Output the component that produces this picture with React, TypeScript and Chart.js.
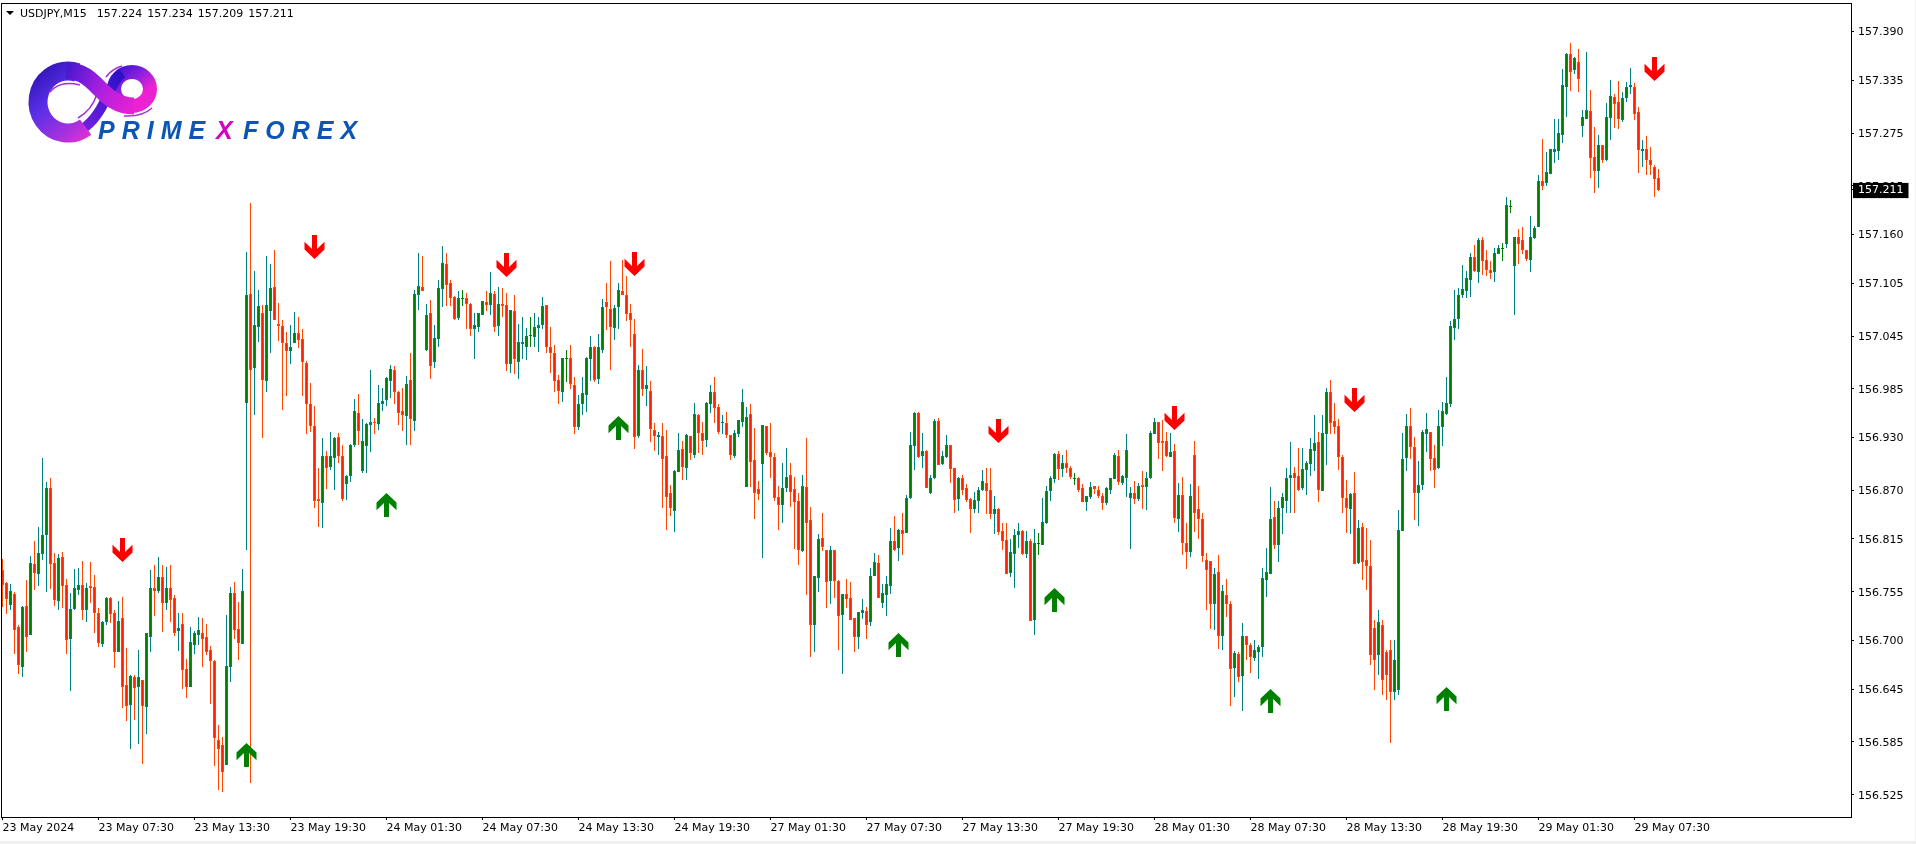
import React, { useEffect, useRef } from "react";
import { Chart, registerables } from "chart.js";

Chart.register(...registerables);

// Price arrays hold thousandths of a yen above PRICE_BASE (792 => 156.792, 1140 => 157.140).
const PRICE_BASE = 156;

const highs = [
  792,766,764,755,718,739,769,796,813,829, 907,880,884,799,798,800,770,754,781,782,
  790,765,789,774,737,722,749,749,735,745, 749,691,661,661,689,655,708,780,786,795,
  786,783,786,752,731,731,679,715,711,727, 726,719,694,678,604,591,729,761,766,744,
  781,1140,1196,1119,1097,1080,1136,1127,1143,1082, 1063,1050,1057,1072,1066,1053,1017,992,966,896,
  929,915,936,931,935,921,888,923,974,979, 951,946,1006,952,990,986,999,1012,1011,983,
  986,1000,1026,1097,1139,1136,1081,1086,1057,1108, 1147,1139,1109,1090,1096,1097,1094,1082,1071,1071,
  1085,1096,1118,1096,1101,1099,1094,1075,1091,1059, 1066,1054,1066,1071,1066,1089,1080,1055,1035,1001,
  1020,1029,1035,998,978,999,1021,1045,1034,1047, 1087,1105,1130,1080,1105,1131,1113,1081,1064,1012,
  1030,1011,994,947,936,947,938,876,893,935, 926,934,932,969,957,948,970,990,999,968,
  955,959,933,939,950,985,964,968,941,881, 944,943,947,912,875,901,918,901,885,867,
  888,930,851,773,821,844,803,807,802,768, 753,770,766,725,732,747,738,782,799,797,
  764,773,828,841,826,845,865,936,959,959, 935,916,887,951,952,915,933,922,896,885,
  888,877,861,868,874,893,896,895,864,850, 833,833,815,826,833,825,824,815,826,822,
  862,875,886,913,915,910,916,898,890,885, 877,864,880,875,875,867,874,884,913,916,
  887,934,874,881,878,892,891,937,952,948, 950,936,935,923,878,885,833,877,926,875,
  845,799,790,782,797,763,770,745,688,687, 720,705,697,701,695,782,805,874,858,858,
  867,895,925,897,918,918,903,930,956,936, 956,986,995,969,951,910,882,867,891,836,
  833,827,814,723,734,723,689,700,700,848, 935,957,963,931,903,938,958,936,921,961,
  970,999,1062,1097,1099,1126,1119,1139,1148,1156, 1157,1142,1130,1145,1148,1150,1202,1199,1157,1166,
  1169,1143,1181,1170,1227,1268,1254,1257,1291,1291, 1347,1366,1377,1361,1370,1301,1367,1324,1282,1273,
  1262,1309,1335,1319,1334,1321,1333,1349,1332,1305, 1267,1272,1259,1239,1234,
];

const opens = [
  780,765,740,753,715,670,739,706,787,775, 798,819,873,788,745,795,763,702,736,757,
  763,734,762,761,731,696,721,748,731,687, 725,650,627,659,647,655,625,704,760,756,
  772,742,759,748,711,719,668,647,695,706, 709,704,689,677,587,582,559,670,754,713,
  696,969,1093,1009,1055,1071,994,1073,1100,1059, 1056,1037,1028,1037,1048,1042,1014,968,943,860,
  856,909,897,907,931,909,877,886,922,958, 892,920,944,948,945,968,972,994,1007,982,
  960,954,995,949,1091,1101,1029,1071,1015,1042, 1098,1127,1105,1089,1065,1087,1088,1081,1053,1055,
  1069,1084,1080,1093,1056,1081,1080,1013,1073,1016, 1036,1033,1045,1044,1054,1057,1080,1033,1026,995,
  982,1020,1020,989,942,968,978,1019,1032,996, 1029,1083,1076,1054,1078,1096,1092,1071,1047,932,
  1007,985,983,939,931,932,909,867,847,891, 917,895,932,910,956,935,927,968,981,965,
  946,947,933,909,934,948,874,957,904,872, 900,943,914,908,863,854,873,887,872,858,
  801,874,836,717,771,816,803,767,802,767, 729,753,748,725,704,731,733,721,773,788,
  743,751,762,813,805,825,822,862,920,958, 909,915,867,884,949,900,908,921,896,860,
  884,873,860,849,858,871,879,870,843,849, 824,814,776,798,819,824,798,813,723,809,
  808,833,869,883,911,894,901,896,883,884, 873,857,863,875,871,864,856,871,883,909,
  878,884,861,867,860,876,874,884,934,948, 926,926,908,915,838,865,810,800,910,849,
  838,791,790,741,778,705,751,741,669,685, 660,705,695,680,687,693,768,775,840,808,
  850,858,884,890,886,873,893,900,915,925, 869,934,981,949,943,908,861,849,867,788,
  829,791,784,714,684,718,687,689,642,644, 824,907,943,919,867,876,934,936,907,895,
  942,957,968,1054,1064,1092,1096,1109,1134,1118, 1154,1131,1120,1117,1138,1144,1149,1191,1124,1157,
  1154,1143,1131,1156,1168,1221,1218,1229,1254,1255, 1273,1327,1364,1346,1355,1283,1291,1300,1248,1232,
  1261,1245,1292,1316,1310,1290,1315,1327,1327,1299, 1255,1257,1245,1236,1224,
];

const closes = [
  763,747,756,712,672,738,704,788,777,799, 820,873,787,746,794,762,701,736,760,763,
  734,760,760,731,697,721,748,730,687,722, 647,626,660,646,659,626,708,760,756,772,
  742,760,746,709,714,666,647,698,708,712, 702,687,677,590,577,551,671,754,712,697,
  756,1091,1007,1057,1079,995,1080,1099,1063,1056, 1037,1028,1033,1048,1041,1015,968,943,858,858,
  909,896,909,930,909,860,886,922,960,937, 926,945,948,946,969,971,997,1008,981,958,
  955,991,951,1093,1102,1096,1069,1011,1043,1099, 1128,1103,1088,1064,1088,1088,1081,1053,1057,1071,
  1085,1080,1094,1055,1081,1079,1013,1074,1019,1038, 1038,1045,1046,1055,1057,1079,1032,1026,994,983,
  1020,1019,991,942,968,980,1020,1033,995,1032, 1078,1078,1055,1077,1097,1092,1070,1063,931,1006,
  985,989,940,932,933,906,863,850,892,916, 897,933,913,957,935,926,969,981,963,936,
  948,933,910,935,950,970,953,902,867,866, 944,913,908,861,854,873,885,868,857,803,
  875,833,717,773,815,806,766,803,767,728, 753,747,723,704,732,734,717,773,789,748,
  754,764,813,803,825,821,861,922,958,908, 915,873,884,949,899,909,921,894,859,884,
  871,859,849,859,871,881,869,843,849,823, 813,775,800,819,824,798,813,722,810,810,
  834,869,884,911,894,901,896,885,884,871, 857,864,874,872,864,856,873,884,910,880,
  886,916,867,860,875,874,884,935,948,924, 924,909,914,839,865,810,800,864,845,838,
  796,780,741,775,705,756,741,668,686,659, 705,695,681,689,693,771,778,838,808,850,
  863,884,888,884,870,894,901,917,924,871, 935,981,946,942,908,861,850,866,787,828,
  789,784,684,678,721,655,661,642,678,825, 906,943,919,867,876,936,940,906,893,943,
  960,969,1056,1064,1092,1098,1111,1134,1119,1154, 1130,1120,1116,1139,1145,1145,1193,1192,1157,1149,
  1142,1132,1157,1167,1221,1215,1231,1257,1257,1275, 1329,1365,1344,1360,1336,1293,1301,1247,1232,1262,
  1245,1293,1317,1308,1291,1315,1327,1329,1297,1256, 1257,1245,1239,1223,1211,
];

const lows = [
  738,730,734,685,662,659,687,706,757,762, 791,755,758,739,734,737,685,643,735,751,
  723,721,743,709,693,693,717,720,669,687, 624,609,577,610,583,560,594,687,728,754,
  710,735,721,705,688,645,635,647,685,695, 670,684,628,558,531,528,559,653,702,678,
  696,802,539,956,1038,930,981,1026,1063,1039, 961,977,1013,1037,1031,977,934,936,850,829,
  827,872,893,870,901,858,859,880,919,922, 890,890,914,934,938,960,966,975,968,944,
  937,921,922,937,1075,1096,1028,996,1009,1033, 1078,1079,1079,1063,1063,1079,1053,1045,1019,1050,
  1069,1073,1069,1049,1045,1066,1005,1003,1002,996, 1019,1018,1032,1032,1027,1053,1026,1003,982,968,
  970,993,985,934,939,956,959,994,993,991, 1026,1052,1006,1040,1053,1091,1062,1032,917,930,
  977,966,925,915,910,850,825,841,823,891, 882,882,905,907,913,910,919,958,946,934,
  934,930,905,907,931,942,874,874,838,859, 793,910,884,858,825,833,868,851,804,786,
  800,751,681,687,755,801,737,741,748,689, 662,737,723,687,690,724,702,716,773,748,
  737,728,753,801,790,797,822,860,893,907, 895,873,866,883,899,899,907,879,845,847,
  865,857,822,845,844,869,843,838,821,819, 802,775,772,759,805,797,794,722,706,797,
  808,832,858,879,882,885,890,883,876,868, 857,847,860,866,862,848,854,866,883,876,
  876,863,804,855,858,849,848,883,934,906, 892,908,908,833,823,797,781,795,823,815,
  789,734,713,712,690,689,727,626,636,653, 620,678,663,677,656,681,749,775,804,789,
  821,844,845,844,869,871,865,886,892,857, 869,899,934,934,893,845,822,821,787,787,
  768,757,672,644,661,638,633,584,633,638, 824,892,906,837,830,870,914,892,873,894,
  920,955,965,1040,1053,1088,1088,1089,1117,1105, 1114,1113,1110,1106,1138,1130,1145,1184,1069,1127,
  1138,1130,1118,1155,1168,1210,1215,1229,1241,1244, 1264,1293,1323,1342,1322,1270,1291,1224,1207,1213,
  1241,1243,1267,1281,1280,1288,1310,1319,1290,1230, 1237,1227,1228,1203,1209,
];

// Signal arrows: candle index and price level (same unit as above).
const sellIndex = [30, 78, 126, 158, 249, 293, 338, 413];
const sellLevel = [802, 1146, 1125, 1127, 937, 952, 973, 1348];
const buyIndex = [61, 96, 154, 224, 263, 317, 361];
const buyLevel = [570, 853, 941, 695, 746, 631, 634];

const timeLabels = [
  "23 May 2024", "23 May 07:30", "23 May 13:30", "23 May 19:30", "24 May 01:30", "24 May 07:30",
  "24 May 13:30", "24 May 19:30", "27 May 01:30", "27 May 07:30", "27 May 13:30", "27 May 19:30",
  "28 May 01:30", "28 May 07:30", "28 May 13:30", "28 May 19:30", "29 May 01:30", "29 May 07:30",
];
const BARS_PER_LABEL = 24;

const priceLabels = [
  "157.390", "157.335", "157.275", "157.215", "157.160", "157.105", "157.045", "156.985",
  "156.930", "156.870", "156.815", "156.755", "156.700", "156.645", "156.585", "156.525",
];
const LAST_PRICE = "157.211";
const HEADER = "USDJPY,M15  157.224 157.234 157.209 157.211";

const FONT = "DejaVu Sans";
const WIDTH = 1915;
const HEIGHT = 841;

const toPrice = (v: number) => PRICE_BASE + v / 1000;

function arrowImage(color: string, down: boolean) {
  const c = document.createElement("canvas");
  c.width = 21;
  c.height = 24;
  const g = c.getContext("2d")!;
  const pts = [
    [8, 0], [13, 0], [13, 14], [20.5, 6.8], [20.5, 14.5], [10.5, 24], [0.5, 14.5], [0.5, 6.8], [8, 14],
  ];
  g.fillStyle = color;
  g.beginPath();
  pts.forEach(([x, y], i) => {
    const py = down ? y : 24 - y;
    if (i === 0) g.moveTo(x, py);
    else g.lineTo(x, py);
  });
  g.closePath();
  g.fill();
  return c;
}

const crispPlugin = {
  id: "crisp",
  afterDatasetsUpdate(chart: any) {
    chart.getSortedVisibleDatasetMetas().forEach((meta: any) => {
      meta.data.forEach((el: any) => {
        el.y = Math.round(el.y);
        if (el.base !== undefined) {
          el.base = Math.round(el.base);
          if (el.base === el.y) el.base = el.y + 1;
        }
      });
    });
  },
};

function drawLogo(ctx: CanvasRenderingContext2D) {
  ctx.save();
  ctx.lineCap = "butt";
  // right loop
  let g = ctx.createLinearGradient(112, 66, 150, 112);
  g.addColorStop(0, "#2a10c8");
  g.addColorStop(0.4, "#8a20e0");
  g.addColorStop(0.7, "#f020d0");
  g.addColorStop(1, "#e028d8");
  ctx.strokeStyle = g;
  ctx.lineWidth = 14;
  ctx.beginPath();
  ctx.ellipse(132, 89, 18, 17, 0, 0, Math.PI * 2);
  ctx.stroke();
  // strand running back to the bottom of the left loop
  g = ctx.createLinearGradient(118, 72, 84, 128);
  g.addColorStop(0, "#2a10c8");
  g.addColorStop(1, "#7020e0");
  ctx.strokeStyle = g;
  ctx.lineWidth = 10;
  ctx.beginPath();
  ctx.moveTo(122, 73);
  ctx.bezierCurveTo(108, 84, 106, 112, 84, 128);
  ctx.stroke();
  // left loop
  g = ctx.createLinearGradient(34, 66, 96, 138);
  g.addColorStop(0, "#2a10b0");
  g.addColorStop(0.4, "#5a30e8");
  g.addColorStop(0.72, "#a030e0");
  g.addColorStop(1, "#f030d0");
  ctx.strokeStyle = g;
  ctx.lineWidth = 19;
  ctx.beginPath();
  ctx.ellipse(68, 102, 30, 31, 0, Math.PI * 0.3, Math.PI * 1.6);
  ctx.stroke();
  // crossing ribbon
  g = ctx.createLinearGradient(66, 72, 140, 106);
  g.addColorStop(0, "#4a18d0");
  g.addColorStop(0.5, "#b020e0");
  g.addColorStop(1, "#f020d0");
  ctx.strokeStyle = g;
  ctx.lineWidth = 17;
  ctx.beginPath();
  ctx.moveTo(66, 71);
  ctx.bezierCurveTo(98, 70, 100, 106, 134, 106);
  ctx.stroke();
  // thin highlights
  ctx.strokeStyle = "#a030d8";
  ctx.lineWidth = 1.5;
  ctx.beginPath();
  ctx.moveTo(50, 92);
  ctx.quadraticCurveTo(60, 80, 80, 85);
  ctx.stroke();
  ctx.beginPath();
  ctx.moveTo(78, 118);
  ctx.quadraticCurveTo(92, 110, 97, 94);
  ctx.stroke();
  ctx.beginPath();
  ctx.moveTo(106, 77);
  ctx.quadraticCurveTo(112, 69, 122, 66);
  ctx.stroke();
  ctx.beginPath();
  ctx.moveTo(124, 116);
  ctx.quadraticCurveTo(142, 117, 152, 108);
  ctx.stroke();
  // brand text
  ctx.font = "italic bold 25px 'Liberation Sans'";
  ctx.textBaseline = "alphabetic";
  ctx.textAlign = "left";
  (ctx as any).letterSpacing = "7px";
  ctx.fillStyle = "#0b56b4";
  ctx.fillText("PRIME", 98, 139);
  ctx.fillText("FOREX", 243, 139);
  ctx.fillStyle = "#d400c4";
  ctx.fillText("X", 216, 139);
  (ctx as any).letterSpacing = "0px";
  ctx.restore();
}

const overlayPlugin = {
  id: "overlay",
  afterDraw(chart: any) {
    const { ctx, chartArea: a } = chart;
    ctx.save();
    ctx.strokeStyle = "#000";
    ctx.lineWidth = 1;
    ctx.strokeRect(a.left - 0.5, a.top - 0.5, a.right - a.left + 1, a.bottom - a.top + 1);
    ctx.fillStyle = "#000";
    ctx.beginPath();
    ctx.moveTo(6, 11);
    ctx.lineTo(14, 11);
    ctx.lineTo(10, 15);
    ctx.closePath();
    ctx.fill();
    ctx.font = `11px '${FONT}'`;
    ctx.textBaseline = "middle";
    ctx.textAlign = "left";
    (ctx as any).wordSpacing = "1.5px";
    ctx.fillText(HEADER, 20, 14);
    (ctx as any).wordSpacing = "0px";
    ctx.restore();
    drawLogo(ctx);
  },
};

const clearPadding = (scale: any) => {
  scale.paddingLeft = 0;
  scale.paddingRight = 0;
  scale.paddingTop = 0;
  scale.paddingBottom = 0;
};

export default function App() {
  const ref = useRef<HTMLCanvasElement>(null);

  useEffect(() => {
    document.body.style.margin = "0";
    document.body.style.background = "#f0f0f0";

    const bodies = opens.map((o, i) => ({ x: i, y: [toPrice(o), toPrice(closes[i])] }));
    const wicks = highs.map((h, i) => ({ x: i, y: [toPrice(lows[i]), toPrice(h)] }));
    const isDoji = (i: number) => Math.abs(closes[i] - opens[i]) <= 1;
    const colorBy = (up: string, down: string, doji: string) =>
      opens.map((o, i) => (isDoji(i) ? doji : closes[i] >= o ? up : down));

    const priceTicks = [...priceLabels, LAST_PRICE].map((s) => ({ value: parseFloat(s) }));
    const lastValue = parseFloat(LAST_PRICE);

    const chart = new Chart(ref.current!, {
      type: "bar",
      data: {
        datasets: [
          {
            type: "bar",
            data: wicks,
            order: 3,
            grouped: false,
            barThickness: 1,
            inflateAmount: 0,
            borderWidth: 0,
            backgroundColor: colorBy("#008080", "#ff4500", "#008000"),
          },
          {
            type: "bar",
            data: bodies,
            order: 2,
            grouped: false,
            barThickness: 3,
            inflateAmount: 0,
            borderWidth: 1,
            borderSkipped: false,
            borderColor: colorBy("#008080", "#ff4500", "#008000"),
            backgroundColor: colorBy("#008000", "#ff1e00", "#008000"),
          },
          {
            type: "scatter",
            data: sellIndex.map((x, i) => ({ x, y: toPrice(sellLevel[i]) })),
            order: 1,
            pointStyle: arrowImage("#ff0000", true),
            pointRadius: 10,
          },
          {
            type: "scatter",
            data: buyIndex.map((x, i) => ({ x, y: toPrice(buyLevel[i]) })),
            order: 1,
            pointStyle: arrowImage("#008000", false),
            pointRadius: 10,
          },
        ] as any,
      },
      options: {
        animation: false,
        responsive: false,
        devicePixelRatio: 1,
        layout: { autoPadding: false, padding: { left: 2, top: 4, right: 0, bottom: 0 } },
        plugins: { legend: { display: false }, tooltip: { enabled: false } },
        events: [],
        scales: {
          x: {
            type: "linear",
            offset: false,
            min: -0.125,
            max: 462.125,
            border: { display: false },
            grid: { display: true, offset: false, drawOnChartArea: false, drawTicks: true, tickLength: 3, color: "#000" },
            afterBuildTicks(scale: any) {
              scale.ticks = timeLabels.map((_, i) => ({ value: i * BARS_PER_LABEL }));
            },
            afterFit(scale: any) {
              scale.height = 24;
              clearPadding(scale);
            },
            ticks: {
              autoSkip: false,
              maxRotation: 0,
              minRotation: 0,
              align: "start",
              padding: 2,
              color: "#000",
              font: { family: FONT, size: 11 },
              callback: (_v: any, i: number) => timeLabels[i],
            },
          },
          y: {
            type: "linear",
            position: "right",
            beginAtZero: false,
            min: 156.5,
            max: 157.4212,
            border: { display: false },
            grid: { display: true, drawOnChartArea: false, drawTicks: true, tickLength: 3, color: "#000" },
            afterBuildTicks(scale: any) {
              scale.ticks = priceTicks.map((t) => ({ ...t }));
            },
            afterFit(scale: any) {
              scale.width = 64;
              clearPadding(scale);
            },
            ticks: {
              autoSkip: false,
              padding: 4,
              labelOffset: 1,
              font: { family: FONT, size: 11 },
              color: (c: any) => (c.tick && c.tick.value === lastValue ? "#fff" : "#000"),
              showLabelBackdrop: (c: any) => !!c.tick && c.tick.value === lastValue,
              backdropColor: "#000",
              backdropPadding: { left: 5, right: 5, top: 1, bottom: 1 },
              callback: (v: any) => Number(v).toFixed(3),
            },
          },
        },
      } as any,
      plugins: [crispPlugin, overlayPlugin],
    } as any);

    return () => chart.destroy();
  }, []);

  return (
    <canvas
      ref={ref}
      width={WIDTH}
      height={HEIGHT}
      style={{ display: "block", width: WIDTH, height: HEIGHT, background: "#fff" }}
    />
  );
}
